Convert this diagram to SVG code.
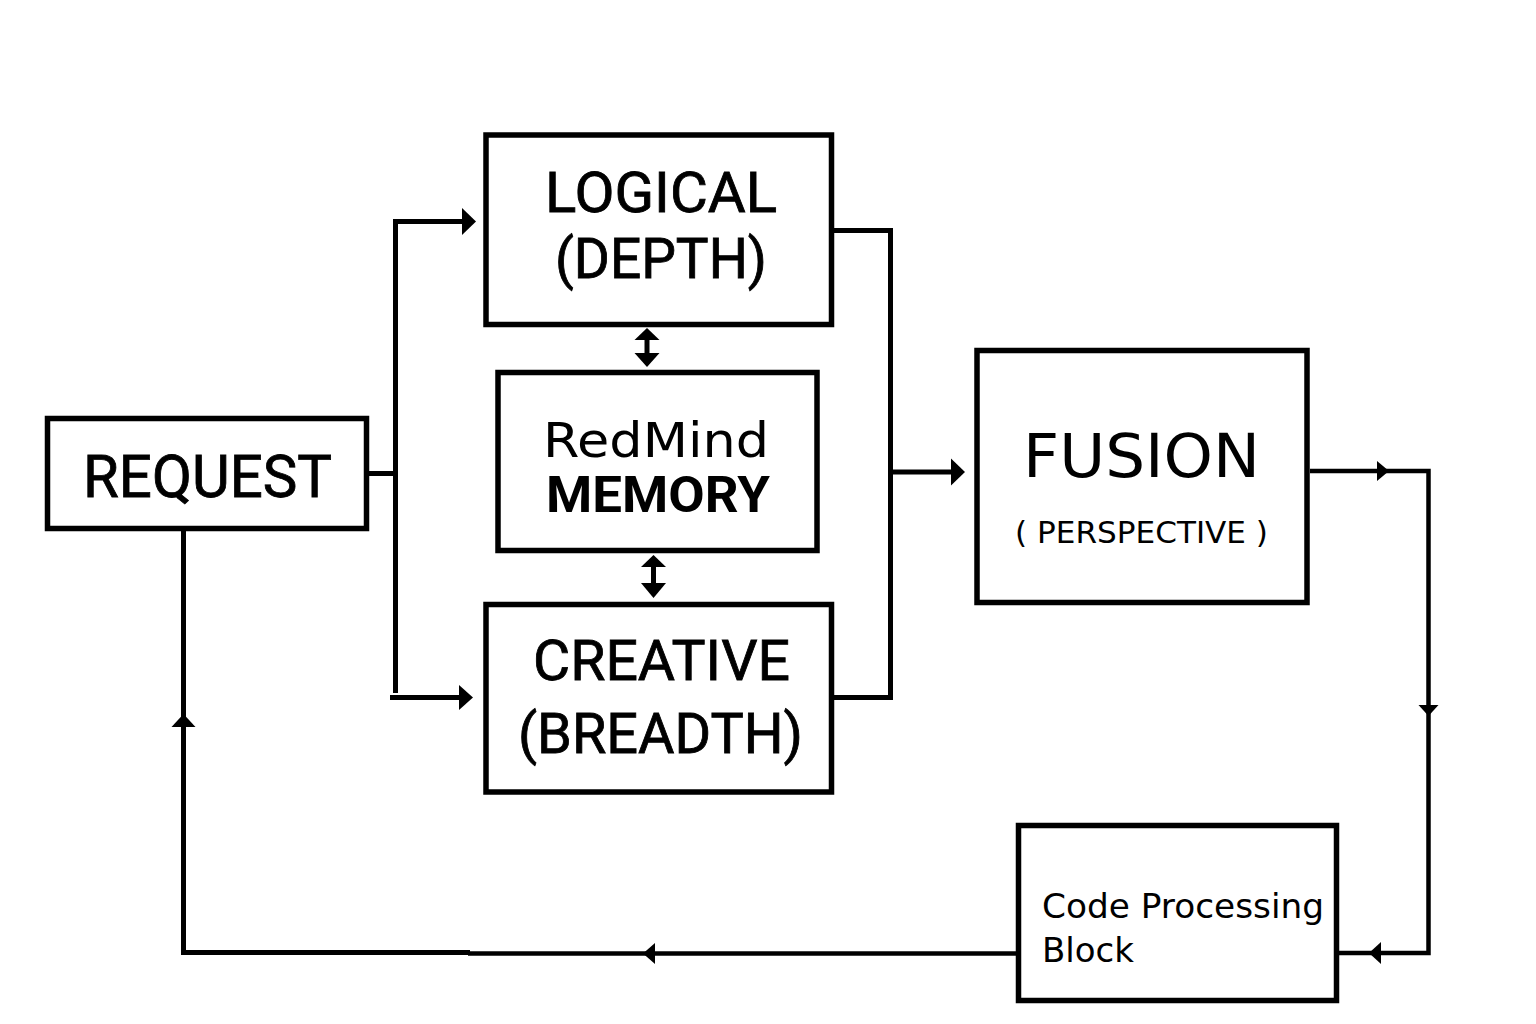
<svg xmlns="http://www.w3.org/2000/svg" width="1536" height="1024" viewBox="0 0 1536 1024">
<style>
.box{fill:#ffffff;stroke:#000000;stroke-width:5.5}
.ln{fill:none;stroke:#000000;stroke-width:5}
.thin{fill:none;stroke:#000000;stroke-width:4.5}
.ah{fill:#000000;stroke:none}
.r{font-family:Roboto,"Liberation Sans",sans-serif;font-weight:400;fill:#000000;text-anchor:middle;stroke:#000000;stroke-width:0.8}
.rb{font-family:Roboto,"Liberation Sans",sans-serif;font-weight:700;fill:#000000;text-anchor:middle}
.d{font-family:"DejaVu Sans","Liberation Sans",sans-serif;fill:#000000}
</style>
<rect width="1536" height="1024" fill="#ffffff"/>
<g id="connectors">
  <line class="ln" x1="369" y1="473.5" x2="396" y2="473.5"/>
  <line class="ln" x1="395.5" y1="219" x2="395.5" y2="693"/>
  <line class="ln" x1="393" y1="221.5" x2="463" y2="221.5"/>
  <polygon class="ah" points="462,208 476,221.5 462,235"/>
  <line class="ln" x1="390" y1="697.5" x2="460" y2="697.5"/>
  <polygon class="ah" points="459,685 473,697.5 459,710"/>
  <polyline class="ln" points="834,230.5 890.5,230.5 890.5,697.5 834,697.5"/>
  <line class="ln" x1="890" y1="472" x2="952" y2="472"/>
  <polygon class="ah" points="951,458.5 965,472 951,485.5"/>
  <polyline class="thin" points="1310,471 1428.5,471 1428.5,953 1339,953"/>
  <polygon class="ah" points="1377,461 1389,471 1377,481"/>
  <polygon class="ah" points="1418.5,705 1438.5,705 1428.5,716"/>
  <polygon class="ah" points="1381,942 1369,953 1381,964"/>
  <line class="thin" x1="1016" y1="953.5" x2="468" y2="953.5"/>
  <polyline class="ln" points="470,952.5 183.5,952.5 183.5,531"/>
  <polygon class="ah" points="655,943 643,953.5 655,964"/>
  <polygon class="ah" points="171.5,727 183.5,714 195.5,727"/>
  <line class="ln" x1="647" y1="339" x2="647" y2="354"/>
  <polygon class="ah" points="634.5,340 647,328 659.5,340"/>
  <polygon class="ah" points="634.5,353 647,367 659.5,353"/>
  <line class="ln" x1="653.5" y1="566" x2="653.5" y2="584"/>
  <polygon class="ah" points="641,567 653.5,555 666,567"/>
  <polygon class="ah" points="641,583 653.5,598 666,583"/>
</g>
<g id="request">
  <rect class="box" x="47.5" y="418.5" width="319" height="110"/>
  <text class="r" x="207.5" y="497" font-size="58.5" textLength="249" lengthAdjust="spacingAndGlyphs">REQUEST</text>
</g>
<g id="logical">
  <rect class="box" x="486" y="135" width="345.5" height="189.5"/>
  <text class="r" x="661" y="212" font-size="55" textLength="232" lengthAdjust="spacingAndGlyphs">LOGICAL</text>
  <text class="r" x="661" y="278" font-size="55" textLength="212" lengthAdjust="spacingAndGlyphs">(DEPTH)</text>
</g>
<g id="memory">
  <rect class="box" x="498" y="372.5" width="319" height="178"/>
  <text class="d" x="656" y="457" font-size="48" text-anchor="middle" textLength="226" lengthAdjust="spacingAndGlyphs">RedMind</text>
  <text class="rb" x="658" y="512" font-size="50" textLength="224" lengthAdjust="spacingAndGlyphs">MEMORY</text>
</g>
<g id="creative">
  <rect class="box" x="486" y="604.5" width="345.5" height="187.5"/>
  <text class="r" x="661.5" y="680" font-size="56" textLength="257" lengthAdjust="spacingAndGlyphs">CREATIVE</text>
  <text class="r" x="660.5" y="753" font-size="56" textLength="285" lengthAdjust="spacingAndGlyphs">(BREADTH)</text>
</g>
<g id="fusion">
  <rect class="box" x="977" y="350.5" width="330" height="252"/>
  <text class="d" x="1141.5" y="477" font-size="60" text-anchor="middle" textLength="237" lengthAdjust="spacingAndGlyphs">FUSION</text>
  <text class="d" x="1141.5" y="543" font-size="30" text-anchor="middle" textLength="253" lengthAdjust="spacingAndGlyphs">( PERSPECTIVE )</text>
</g>
<g id="code-processing">
  <rect class="box" x="1018.5" y="825.5" width="318" height="175"/>
  <text class="d" x="1042" y="918" font-size="34" textLength="282" lengthAdjust="spacingAndGlyphs">Code Processing</text>
  <text class="d" x="1042" y="962" font-size="34">Block</text>
</g>
</svg>
